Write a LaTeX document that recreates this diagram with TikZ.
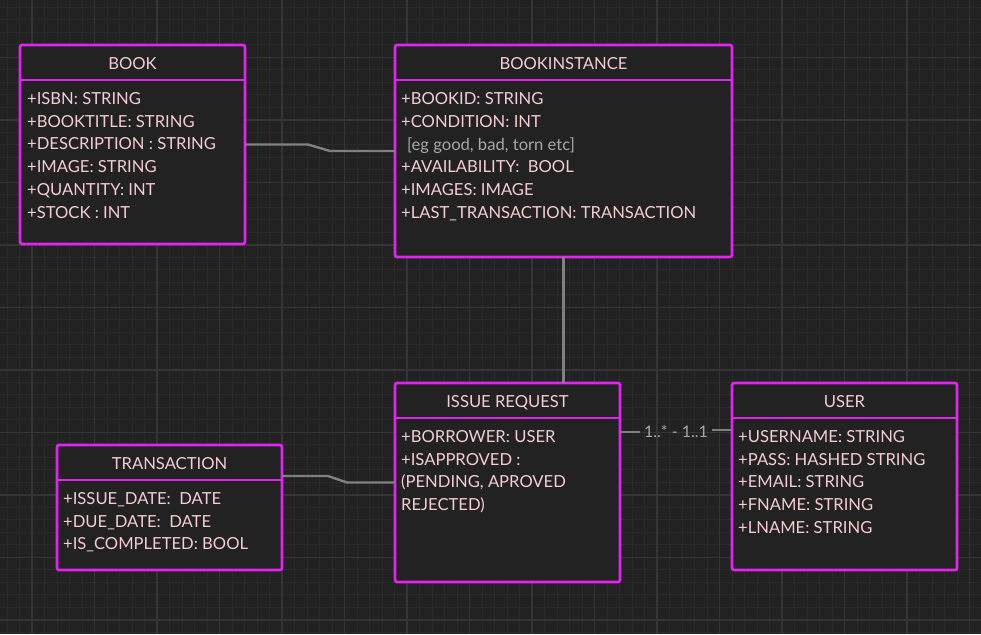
\documentclass[tikz,border=0pt]{standalone}
\usepackage{fontspec}
\setmainfont{Lato}
\usetikzlibrary{calc}
\definecolor{bgc}{HTML}{222222}
\definecolor{boxfill}{HTML}{222222}
\definecolor{minorc}{HTML}{2A2A2A}
\definecolor{majorc}{HTML}{353535}
\definecolor{mag}{RGB}{226,36,240}
\definecolor{pinktext}{RGB}{245,205,210}
\definecolor{graytext}{HTML}{A8A8A8}
\definecolor{connc}{HTML}{808080}
\tikzset{
  umlbox/.style={draw=mag, line width=2.6pt, fill=boxfill, rounded corners=2pt, anchor=north west, inner sep=0pt, outer sep=0pt},
  divider/.style={draw=mag, line width=2.6pt},
  attr/.style={anchor=base west, inner sep=0pt, text=pinktext, font=\fontsize{16.6}{20}\selectfont},
  ttl/.style={anchor=base, inner sep=0pt, text=pinktext, font=\fontsize{16.6}{20}\selectfont},
  note/.style={anchor=base west, inner sep=0pt, text=graytext, font=\fontsize{16.6}{20}\selectfont},
  mult/.style={anchor=base, inner sep=0pt, text=graytext, font=\fontsize{16}{19}\selectfont},
  conn/.style={draw=connc, line width=2.4pt},
  minorline/.style={draw=minorc, line width=1pt},
  majorline/.style={draw=majorc, line width=1.6pt}
}
\begin{document}
\begin{tikzpicture}[x=1pt,y=-1pt]
\useasboundingbox (0,0) rectangle (981,634);
\fill[bgc] (0,0) rectangle (981,634);
\begin{scope}
\clip (0,0) rectangle (981,634);
\foreach \k in {0,...,78} \draw[minorline] ({7+12.5*\k},0) -- ++(0,634);
\foreach \k in {0,...,51} \draw[minorline] (0,{7.3+12.5*\k}) -- ++(981,0);
\foreach \k in {0,...,15} \draw[majorline] ({32+62.5*\k},0) -- ++(0,634);
\foreach \k in {0,...,9} \draw[majorline] (0,{57.3+62.5*\k}) -- ++(981,0);
\end{scope}

% boxes
\node[umlbox, minimum width=225pt, minimum height=199pt] (book) at (20,45) {};
\node[umlbox, minimum width=337pt, minimum height=212pt] (bi) at (395,45) {};
\node[umlbox, minimum width=225pt, minimum height=199pt] (ir) at (395,383) {};
\node[umlbox, minimum width=225pt, minimum height=187pt] (user) at (732,383) {};
\node[umlbox, minimum width=225pt, minimum height=125pt] (trans) at (57,445) {};

% dividers
\draw[divider] ($(book.north west)+(0,35)$) -- ($(book.north east)+(0,35)$);
\draw[divider] ($(bi.north west)+(0,35)$) -- ($(bi.north east)+(0,35)$);
\draw[divider] ($(ir.north west)+(0,35)$) -- ($(ir.north east)+(0,35)$);
\draw[divider] ($(user.north west)+(0,35)$) -- ($(user.north east)+(0,35)$);
\draw[divider] ($(trans.north west)+(0,35)$) -- ($(trans.north east)+(0,35)$);

% titles
\node[ttl] (book-t) at (132.5,69.3) {BOOK};
\node[ttl] (bi-t) at (563.5,69.3) {BOOKINSTANCE};
\node[ttl] (ir-t) at (507.5,407.3) {ISSUE REQUEST};
\node[ttl] (user-t) at (844.5,407.3) {USER};
\node[ttl] (trans-t) at (169.5,469.3) {TRANSACTION};

% BOOK attributes
\foreach \t [count=\i] in {{+ISBN: STRING},{+BOOKTITLE: STRING},{+DESCRIPTION : STRING},{+IMAGE: STRING},{+QUANTITY: INT},{+STOCK : INT}}
  \node[attr] (book-a\i) at (27,{104.3+(\i-1)*22.8}) {\t};

% BOOKINSTANCE attributes
\node[attr] (bi-a1) at (401,104.3) {+BOOKID: STRING};
\node[attr] (bi-a2) at (401,127.1) {+CONDITION: INT};
\node[note] (bi-n) at (407,150.5) {[eg good, bad, torn etc]};
\node[attr] (bi-a3) at (401,172.7) {+AVAILABILITY:\ \ BOOL};
\node[attr] (bi-a4) at (401,195.5) {+IMAGES: IMAGE};
\node[attr] (bi-a5) at (401,218.3) {+LAST\_TRANSACTION: TRANSACTION};

% ISSUE REQUEST attributes
\foreach \t [count=\i] in {{+BORROWER: USER},{+ISAPPROVED :},{(PENDING, APROVED},{REJECTED)}}
  \node[attr] (ir-a\i) at (401,{442.3+(\i-1)*22.8}) {\t};

% USER attributes
\foreach \t [count=\i] in {{+USERNAME: STRING},{+PASS: HASHED STRING},{+EMAIL: STRING},{+FNAME: STRING},{+LNAME: STRING}}
  \node[attr] (user-a\i) at (738,{442.3+(\i-1)*22.8}) {\t};

% TRANSACTION attributes
\foreach \t [count=\i] in {{+ISSUE\_DATE:\ \ DATE},{+DUE\_DATE:\ \ DATE},{+IS\_COMPLETED: BOOL}}
  \node[attr] (trans-a\i) at (63,{504.3+(\i-1)*22.8}) {\t};

% connectors
\draw[conn] (book.east) -- ++(63,0) -- ($(bi.west)+(-65,0)$) -- (bi.west);
\draw[conn] ($(trans.north east)!0.248!(trans.south east)$) -- ++(46,0) -- ($(ir.west)+(-48,0)$) -- (ir.west);
\draw[conn] (bi.south) -- (bi.south |- ir.north);
\coordinate (irm) at ($(ir.north east)+(0,49)$);
\coordinate (userm) at ($(user.north west)+(0,47)$);
\draw[conn] (irm) -- ++(20,0);
\draw[conn] (userm) -- ++(-20,0);
\node[mult] (mlabel) at (676,437.5) {1..* - 1..1};
\end{tikzpicture}
\end{document}
